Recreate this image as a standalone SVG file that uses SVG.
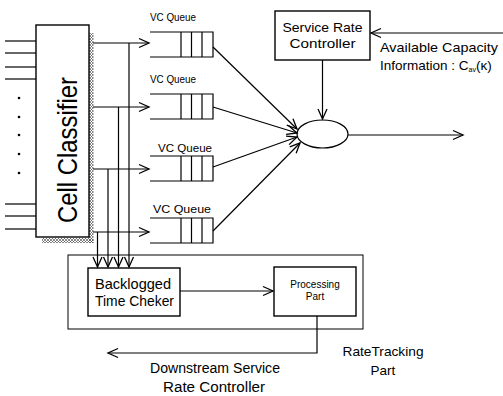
<svg xmlns="http://www.w3.org/2000/svg" width="503" height="396" viewBox="0 0 503 396">
<style>
.ln{stroke:#000;stroke-width:1.2;fill:none}
.bx{stroke:#000;stroke-width:1.4;fill:#fff}
.t{font-family:"Liberation Sans",Arial,sans-serif;fill:#000}
.arr{marker-end:url(#ah)}
</style>
<defs>
<marker id="ah" markerUnits="userSpaceOnUse" viewBox="-11 -6 13 12" refX="0" refY="0" markerWidth="13" markerHeight="12" orient="auto">
<path d="M-10,-4.5 L0,0 L-10,4.5" fill="none" stroke="#000" stroke-width="1.3"/>
</marker>
<pattern id="hatch" patternUnits="userSpaceOnUse" width="3" height="3">
<path d="M0,0 L3,3 M3,0 L0,3" stroke="#555" stroke-width="0.7"/>
</pattern>
</defs>

<g id="inputs">
<line class="ln" x1="5" y1="41" x2="36" y2="41"/>
<line class="ln" x1="5" y1="53" x2="36" y2="53"/>
<line class="ln" x1="5" y1="67" x2="36" y2="67"/>
<line class="ln" x1="5" y1="79" x2="36" y2="79"/>
<line class="ln" x1="5" y1="204" x2="36" y2="204"/>
<line class="ln" x1="5" y1="216" x2="36" y2="216"/>
<line class="ln" x1="5" y1="229" x2="36" y2="229"/>
<circle cx="19" cy="98" r="1.3"/>
<circle cx="19" cy="117" r="1.3"/>
<circle cx="19" cy="135" r="1.3"/>
<circle cx="19" cy="154" r="1.3"/>
<circle cx="19" cy="173" r="1.3"/>
</g>

<g id="classifier">
<rect x="89" y="33" width="4.5" height="210" fill="url(#hatch)"/>
<rect x="42" y="238" width="51.5" height="5" fill="url(#hatch)"/>
<rect class="bx" x="36" y="25" width="53" height="212"/>
<text class="t" transform="translate(77,150) rotate(-90)" text-anchor="middle" font-size="28" textLength="146" lengthAdjust="spacingAndGlyphs">Cell Classifier</text>
</g>

<g id="queue1">
<text class="t" x="150" y="21" font-size="11.5" textLength="46" lengthAdjust="spacingAndGlyphs">VC Queue</text>
<path class="ln" d="M150,32 H213 V57 H150 M181,32 V57 M191.5,32 V57 M202,32 V57"/>
</g>
<g id="queue2">
<text class="t" x="150" y="83" font-size="11.5" textLength="46" lengthAdjust="spacingAndGlyphs">VC Queue</text>
<path class="ln" d="M150,94 H213 V119 H150 M181,94 V119 M191.5,94 V119 M202,94 V119"/>
</g>
<g id="queue3">
<text class="t" x="158" y="152" font-size="11.5" textLength="54" lengthAdjust="spacingAndGlyphs">VC Queue</text>
<path class="ln" d="M150,156 H213 V181 H150 M181,156 V181 M191.5,156 V181 M202,156 V181"/>
</g>
<g id="queue4">
<text class="t" x="153" y="213" font-size="11.5" textLength="58" lengthAdjust="spacingAndGlyphs">VC Queue</text>
<path class="ln" d="M150,218 H213 V243 H150 M181,218 V243 M191.5,218 V243 M202,218 V243"/>
</g>

<g id="src">
<rect class="bx" x="275" y="11" width="95" height="49"/>
<text class="t" x="322.5" y="32" font-size="13.5" text-anchor="middle" textLength="80" lengthAdjust="spacingAndGlyphs">Service Rate</text>
<text class="t" x="322.5" y="48" font-size="13.5" text-anchor="middle" textLength="66" lengthAdjust="spacingAndGlyphs">Controller</text>
</g>

<g id="server">
<ellipse class="ln" cx="322.5" cy="134" rx="25.5" ry="14"/>
</g>

<g id="capacity">
<text class="t" x="380" y="52" font-size="13.5" textLength="118" lengthAdjust="spacingAndGlyphs">Available Capacity</text>
<text class="t" x="380" y="70" font-size="13.5">Information : C<tspan font-size="7" dy="2">av</tspan><tspan dy="-2">(κ)</tspan></text>
</g>

<g id="ratetracking">
<rect x="68" y="255" width="295" height="74" fill="none" stroke="#000" stroke-width="1"/>
<text class="t" x="383" y="356" font-size="13.5" text-anchor="middle" textLength="81" lengthAdjust="spacingAndGlyphs">RateTracking</text>
<text class="t" x="383" y="375" font-size="13.5" text-anchor="middle">Part</text>
</g>

<g id="backlogged">
<rect class="bx" x="88" y="268" width="92" height="48"/>
<text class="t" x="95" y="289" font-size="14.5" textLength="76" lengthAdjust="spacingAndGlyphs">Backlogged</text>
<text class="t" x="95" y="306" font-size="14.5" textLength="79" lengthAdjust="spacingAndGlyphs">Time Cheker</text>
</g>

<g id="processing">
<rect class="bx" x="274" y="267" width="82" height="49"/>
<text class="t" x="315" y="288" font-size="10" text-anchor="middle">Processing</text>
<text class="t" x="315" y="300" font-size="10" text-anchor="middle">Part</text>
</g>

<g id="downstream">
<text class="t" x="215" y="373" font-size="14" text-anchor="middle" textLength="130" lengthAdjust="spacingAndGlyphs">Downstream Service</text>
<text class="t" x="214" y="392" font-size="14" text-anchor="middle" textLength="102" lengthAdjust="spacingAndGlyphs">Rate Controller</text>
</g>

<g id="connectors">
<line class="ln arr" x1="93" y1="43" x2="149" y2="43"/>
<line class="ln arr" x1="93" y1="107" x2="149" y2="107"/>
<line class="ln arr" x1="93" y1="169" x2="149" y2="169"/>
<line class="ln arr" x1="93" y1="232" x2="149" y2="232"/>
<line class="ln arr" x1="129" y1="43" x2="129" y2="267"/>
<line class="ln arr" x1="118.5" y1="107" x2="118.5" y2="267"/>
<line class="ln arr" x1="108" y1="169" x2="108" y2="267"/>
<line class="ln arr" x1="97.5" y1="232" x2="97.5" y2="267"/>
<line class="ln arr" x1="213" y1="47" x2="297" y2="129"/>
<line class="ln arr" x1="213" y1="107" x2="297" y2="133"/>
<line class="ln arr" x1="213" y1="167" x2="297" y2="137"/>
<line class="ln arr" x1="213" y1="231" x2="300" y2="143"/>
<line class="ln arr" x1="322.5" y1="60" x2="322.5" y2="119"/>
<line class="ln arr" x1="348" y1="135" x2="463" y2="135"/>
<line class="ln arr" x1="503" y1="33" x2="371" y2="33"/>
<line class="ln arr" x1="180" y1="291" x2="273" y2="291"/>
<polyline class="ln arr" points="317,316 317,353 108,353"/>
</g>
</svg>
